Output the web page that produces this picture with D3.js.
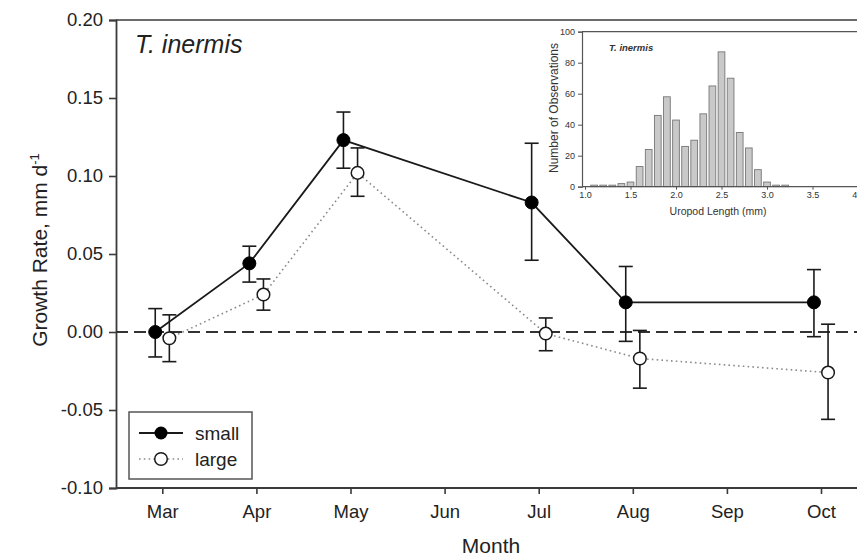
<!DOCTYPE html>
<html>
<head>
<meta charset="utf-8">
<script src="https://cdn.jsdelivr.net/npm/d3@7"></script>
<style>
  html, body { margin: 0; padding: 0; background: #fff; }
  svg { display: block; font-family: "Liberation Sans", Arial, sans-serif; }
</style>
</head>
<body>
<svg id="chart" width="857" height="556"></svg>
<script>
// Monthly growth rates (mm per day) of small and large individuals
const months = ["Mar", "Apr", "May", "Jun", "Jul", "Aug", "Sep", "Oct"];
const sampledMonths = ["Mar", "Apr", "May", "Jul", "Aug", "Oct"];
const smallMean = [0.000, 0.044, 0.123, 0.083, 0.019, 0.019];
const smallLow  = [-0.016, 0.032, 0.105, 0.046, -0.006, -0.003];
const smallHigh = [0.015, 0.055, 0.141, 0.121, 0.042, 0.040];
const largeMean = [-0.004, 0.024, 0.102, -0.001, -0.017, -0.026];
const largeLow  = [-0.019, 0.014, 0.087, -0.012, -0.036, -0.056];
const largeHigh = [0.011, 0.034, 0.118, 0.009, 0.001, 0.005];
const yTicks = [-0.10, -0.05, 0.00, 0.05, 0.10, 0.15, 0.20];

// Inset: uropod length frequency distribution
const binCenters = [1.1, 1.2, 1.3, 1.4, 1.5, 1.6, 1.7, 1.8, 1.9, 2.0, 2.1, 2.2,
                    2.3, 2.4, 2.5, 2.6, 2.7, 2.8, 2.9, 3.0, 3.1, 3.2];
const binCounts  = [1, 1, 1, 2, 3, 13, 24, 46, 58, 43, 26, 30,
                    47, 65, 87, 70, 35, 25, 11, 3, 1, 1];
const insetXTicks = [1.0, 1.5, 2.0, 2.5, 3.0, 3.5, 4.0];
const insetYTicks = [0, 20, 40, 60, 80, 100];

const svg = d3.select("#chart");
const ink = "#222";
const axisInk = "#3a3a3a";
const fontFamily = "Liberation Sans, Arial, sans-serif";

// ---------- main panel ----------
const pL = 116, pR = 857, pT = 20, pB = 488;
const x = d3.scaleLinear().domain([0, 7]).range([162.3, 821]);
const y = d3.scaleLinear().domain([-0.10, 0.20]).range([pB, pT]);
const dodge = 0.075; // horizontal offset (months) separating the two size classes

// frame: top border
svg.append("line").attr("x1", pL).attr("x2", pR).attr("y1", pT).attr("y2", pT)
  .attr("stroke", axisInk).attr("stroke-width", 1.6);

// y axis
const yAxis = svg.append("g").attr("transform", `translate(${pL},0)`)
  .call(d3.axisLeft(y).tickValues(yTicks).tickFormat(d => d.toFixed(2)).tickSize(7).tickPadding(6));
yAxis.select(".domain").attr("stroke", axisInk).attr("stroke-width", 1.8);
yAxis.selectAll(".tick line").attr("stroke", axisInk).attr("stroke-width", 1.6);
yAxis.selectAll(".tick text").attr("font-size", 18.5).attr("fill", ink).attr("font-family", fontFamily);

// x axis
const xAxis = svg.append("g").attr("transform", `translate(0,${pB})`)
  .call(d3.axisBottom(x).tickValues(d3.range(months.length)).tickFormat(i => months[i]).tickSize(6).tickPadding(11));
xAxis.select(".domain").attr("d", `M${pL},0H${pR}`).attr("stroke", axisInk).attr("stroke-width", 1.8);
xAxis.selectAll(".tick line").attr("stroke", axisInk).attr("stroke-width", 1.6);
xAxis.selectAll(".tick text").attr("font-size", 18.5).attr("fill", ink).attr("font-family", fontFamily);

// axis titles
svg.append("text").attr("x", 491).attr("y", 553).attr("text-anchor", "middle")
  .attr("font-size", 21).attr("fill", ink).text("Month");
const yTitle = svg.append("text").attr("transform", "translate(47,250) rotate(-90)")
  .attr("text-anchor", "middle").attr("font-size", 21).attr("fill", ink);
yTitle.append("tspan").text("Growth Rate, mm d");
yTitle.append("tspan").attr("dy", -8).attr("font-size", 13).text("-1");

// panel label
svg.append("text").attr("x", 135).attr("y", 53).attr("font-size", 25)
  .attr("font-style", "italic").attr("fill", ink).text("T. inermis");

// zero reference line
svg.append("line").attr("x1", pL).attr("x2", pR).attr("y1", y(0)).attr("y2", y(0))
  .attr("stroke", "#333").attr("stroke-width", 1.8).attr("stroke-dasharray", "12,6");

function series(mean, low, high, offset) {
  return sampledMonths.map((m, i) => ({
    xv: months.indexOf(m) + offset, mean: mean[i], low: low[i], high: high[i]
  }));
}
const small = series(smallMean, smallLow, smallHigh, -dodge);
const large = series(largeMean, largeLow, largeHigh, dodge);

const line = d3.line().x(d => x(d.xv)).y(d => y(d.mean));

svg.append("path").datum(large).attr("d", line).attr("fill", "none")
  .attr("stroke", "#8a8a8a").attr("stroke-width", 1.6).attr("stroke-dasharray", "1.6,3.2");
svg.append("path").datum(small).attr("d", line).attr("fill", "none")
  .attr("stroke", "#1a1a1a").attr("stroke-width", 1.8);

function errorBars(data) {
  const g = svg.append("g").attr("stroke", "#1a1a1a").attr("stroke-width", 1.6);
  const cap = 7;
  data.forEach(d => {
    const cx = x(d.xv);
    g.append("line").attr("x1", cx).attr("x2", cx).attr("y1", y(d.low)).attr("y2", y(d.high));
    g.append("line").attr("x1", cx - cap).attr("x2", cx + cap).attr("y1", y(d.low)).attr("y2", y(d.low));
    g.append("line").attr("x1", cx - cap).attr("x2", cx + cap).attr("y1", y(d.high)).attr("y2", y(d.high));
  });
}
errorBars(small);
errorBars(large);

svg.append("g").selectAll("circle").data(small).join("circle")
  .attr("cx", d => x(d.xv)).attr("cy", d => y(d.mean)).attr("r", 6.5)
  .attr("fill", "#000").attr("stroke", "#000");
svg.append("g").selectAll("circle").data(large).join("circle")
  .attr("cx", d => x(d.xv)).attr("cy", d => y(d.mean)).attr("r", 6.3)
  .attr("fill", "#fff").attr("stroke", "#1a1a1a").attr("stroke-width", 1.5);

// legend
const lg = svg.append("g");
lg.append("rect").attr("x", 129).attr("y", 412).attr("width", 123).attr("height", 67)
  .attr("fill", "#fff").attr("stroke", "#555").attr("stroke-width", 1.5);
lg.append("line").attr("x1", 139).attr("x2", 183).attr("y1", 433).attr("y2", 433)
  .attr("stroke", "#1a1a1a").attr("stroke-width", 1.8);
lg.append("circle").attr("cx", 161).attr("cy", 433).attr("r", 6.5).attr("fill", "#000");
lg.append("text").attr("x", 195).attr("y", 440).attr("font-size", 19).attr("fill", ink).text("small");
lg.append("line").attr("x1", 139).attr("x2", 183).attr("y1", 459).attr("y2", 459)
  .attr("stroke", "#8a8a8a").attr("stroke-width", 1.6).attr("stroke-dasharray", "1.6,3.2");
lg.append("circle").attr("cx", 161).attr("cy", 459).attr("r", 6.3).attr("fill", "#fff")
  .attr("stroke", "#1a1a1a").attr("stroke-width", 1.5);
lg.append("text").attr("x", 195).attr("y", 466).attr("font-size", 19).attr("fill", ink).text("large");

// ---------- inset histogram ----------
const iLeft = 582, iTop = 31.7, iBottom = 186.7;
const ix = d3.scaleLinear().domain([1.0, 4.0]).range([585, 858]);
const iy = d3.scaleLinear().domain([0, 100]).range([iBottom, iTop]);
const inset = svg.append("g");
inset.append("rect").attr("x", iLeft).attr("y", iTop).attr("width", 857 - iLeft).attr("height", iBottom - iTop)
  .attr("fill", "#fff");
inset.append("line").attr("x1", iLeft).attr("x2", 857).attr("y1", iTop).attr("y2", iTop)
  .attr("stroke", "#555").attr("stroke-width", 1.2);

const barW = (ix(1.1) - ix(1.0)) * 0.74;
inset.append("g").selectAll("rect").data(binCenters).join("rect")
  .attr("x", (d) => ix(d) - barW / 2).attr("width", barW)
  .attr("y", (d, i) => iy(binCounts[i])).attr("height", (d, i) => iBottom - iy(binCounts[i]))
  .attr("fill", "#c9c9c9").attr("stroke", "#777").attr("stroke-width", 0.9);

const iyAxis = inset.append("g").attr("transform", `translate(${iLeft},0)`)
  .call(d3.axisLeft(iy).tickValues(insetYTicks).tickSize(4).tickPadding(3));
iyAxis.select(".domain").attr("stroke", "#555").attr("stroke-width", 1.2);
iyAxis.selectAll(".tick line").attr("stroke", "#555");
iyAxis.selectAll(".tick text").attr("font-size", 9).attr("fill", "#333").attr("font-family", fontFamily);

const ixAxis = inset.append("g").attr("transform", `translate(0,${iBottom})`)
  .call(d3.axisBottom(ix).tickValues(insetXTicks).tickFormat(d3.format(".1f")).tickSize(3).tickPadding(2));
ixAxis.select(".domain").attr("d", `M${iLeft},0H857`).attr("stroke", "#555").attr("stroke-width", 1.2);
ixAxis.selectAll(".tick line").attr("stroke", "#555");
ixAxis.selectAll(".tick text").attr("font-size", 9).attr("fill", "#333").attr("font-family", fontFamily);

inset.append("text").attr("x", 718).attr("y", 215).attr("text-anchor", "middle")
  .attr("font-size", 10.5).attr("fill", "#333").text("Uropod Length (mm)");
inset.append("text").attr("transform", "translate(558,108) rotate(-90)").attr("text-anchor", "middle")
  .attr("font-size", 12).attr("fill", "#333").text("Number of Observations");
inset.append("text").attr("x", 609).attr("y", 51).attr("font-size", 9.5)
  .attr("font-style", "italic").attr("font-weight", "bold").attr("fill", "#333").text("T. inermis");
</script>
</body>
</html>
